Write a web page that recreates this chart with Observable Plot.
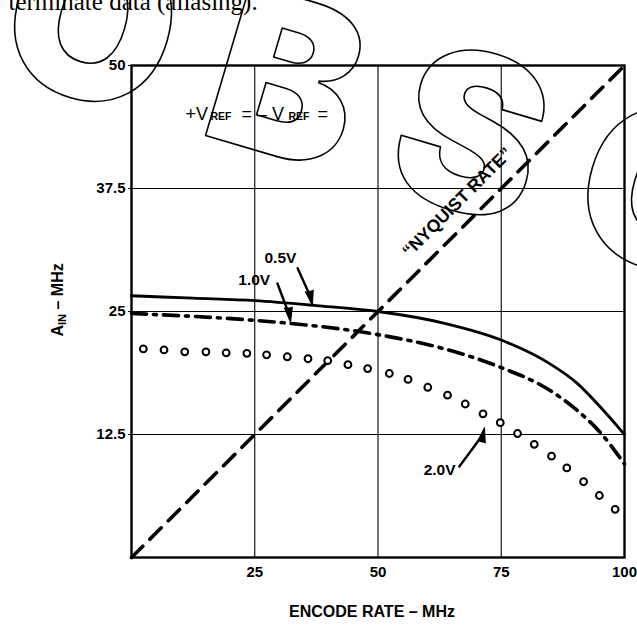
<!DOCTYPE html>
<html><head><meta charset="utf-8">
<script src="https://cdn.jsdelivr.net/npm/d3@7"></script>
<script src="https://cdn.jsdelivr.net/npm/@observablehq/plot@0.6"></script>
<style>html,body{margin:0;padding:0;background:#fff} svg{display:block}</style>
</head><body><div id="chart"></div>
<script>
// ---- data ----
const encodeRate05 = [0, 12.5, 25, 37.5, 50, 63.5, 75, 84.5, 90.3, 95.1, 100];
const ain05        = [26.6, 26.35, 26.1, 25.6, 25.0, 23.8, 22.1, 19.8, 17.75, 15.3, 12.5];
const encodeRate10 = [0, 25, 32, 50, 63.5, 75, 84.5, 90.3, 95.1, 100];
const ain10        = [24.8, 24.1, 23.8, 22.65, 21.2, 19.3, 17.1, 15.0, 12.7, 9.5];
const encodeRate20 = [2.4, 6.6, 10.8, 15.1, 19.2, 23.4, 27.4, 31.6, 35.8, 39.8, 43.9, 47.9, 52.3, 56.1, 60.1, 64.1, 67.7, 71.3, 74.8, 78.3, 81.7, 85.2, 88.3, 91.7, 94.9, 98.1];
const ain20        = [21.2, 21.1, 20.9, 20.9, 20.8, 20.75, 20.6, 20.4, 20.2, 20.0, 19.6, 19.2, 18.7, 18.1, 17.3, 16.5, 15.6, 14.6, 13.7, 12.6, 11.5, 10.3, 9.1, 7.7, 6.3, 4.9];
const nyquistRate  = [0, 100];
const nyquistAin   = [0, 50];
const xTicks = [25, 50, 75, 100];
const yTicks = [12.5, 25, 37.5, 50];
const curveLabels = ["0.5V", "1.0V", "2.0V"];

// ---- annotation geometry ----
const labelPos = [{t: curveLabels[0], x: 30.2, y: 30.4}, {t: curveLabels[1], x: 24.9, y: 28.2}, {t: curveLabels[2], x: 62.5, y: 8.9}];
const arrowShafts = [
  {x1: 33.7, y1: 29.4, x2: 36.3, y2: 26.5, bend: 35},
  {x1: 29.6, y1: 27.85, x2: 31.9, y2: 24.8, bend: 35},
  {x1: 66.5, y1: 9.25, x2: 71.3, y2: 12.5, bend: -35}
];
const arrowHeads = [
  {x: 36.7, y: 25.6, a: 168},
  {x: 32.25, y: 23.9, a: 172},
  {x: 71.6, y: 13.2, a: 12}
];

const sans = "'Liberation Sans', Arial, Helvetica, sans-serif";
const pts = (xs, ys) => xs.map((x, i) => ({x, y: ys[i]}));

const chart = Plot.plot({
  width: 637, height: 626,
  marginLeft: 131, marginRight: 13, marginTop: 65, marginBottom: 69,
  x: {domain: [0, 100]},
  y: {domain: [0, 50]},
  style: {fontFamily: sans, background: "white", color: "black"},
  marks: [
    Plot.gridX(xTicks.slice(0, 3), {stroke: "black", strokeOpacity: 1, strokeWidth: 1.1}),
    Plot.gridY(yTicks.slice(0, 3), {stroke: "black", strokeOpacity: 1, strokeWidth: 1.1}),
    Plot.frame({stroke: "black", strokeWidth: 2.4}),
    Plot.axisX(xTicks, {tickSize: 0, tickPadding: 9, fontSize: 15, fontWeight: "bold", label: null, tickFormat: d => `${d}`}),
    Plot.axisY(yTicks, {tickSize: 3, tickPadding: 3, fontSize: 15, fontWeight: "bold", label: null, tickFormat: d => `${d}`}),
    // Nyquist rate
    Plot.line(pts(nyquistRate, nyquistAin), {x: "x", y: "y", stroke: "black", strokeWidth: 3.6, strokeDasharray: "16,10"}),
    // 0.5V solid
    Plot.line(pts(encodeRate05, ain05), {x: "x", y: "y", stroke: "black", strokeWidth: 2.8, curve: "monotone-x"}),
    // 1.0V dash-dot
    Plot.line(pts(encodeRate10, ain10), {x: "x", y: "y", stroke: "black", strokeWidth: 3.6, curve: "monotone-x", strokeDasharray: "15,7,3,7"}),
    // 2.0V circles
    Plot.dot(pts(encodeRate20, ain20), {x: "x", y: "y", r: 3.4, stroke: "black", strokeWidth: 2, fill: "white"}),
    // curve labels and arrows
    Plot.text(labelPos, {x: "x", y: "y", text: "t", fontSize: 15.5, fontWeight: "bold"}),
    Plot.arrow(arrowShafts, {x1: "x1", y1: "y1", x2: "x2", y2: "y2", bend: d => d.bend, stroke: "black", strokeWidth: 2.4, headLength: 0}),
    Plot.vector(arrowHeads, {x: "x", y: "y", rotate: "a", length: 15, r: 4, shape: "spike", anchor: "end", fill: "black", stroke: "black", strokeWidth: 1}),
    Plot.text(["\u201CNYQUIST RATE\u201D"], {x: 66.1, y: 36.1, rotate: -45, fontSize: 17.5, fontWeight: "bold"}),
    // +VREF = -VREF =
    Plot.text(["+V"], {frameAnchor: "top-left", dx: 54, dy: 54, textAnchor: "start", lineAnchor: "bottom", fontSize: 18}),
    Plot.text(["REF"], {frameAnchor: "top-left", dx: 79, dy: 54, textAnchor: "start", lineAnchor: "bottom", fontSize: 10.5, fontWeight: "bold"}),
    Plot.text(["= \u2013 V"], {frameAnchor: "top-left", dx: 110, dy: 54, textAnchor: "start", lineAnchor: "bottom", fontSize: 18}),
    Plot.text(["REF"], {frameAnchor: "top-left", dx: 157, dy: 54, textAnchor: "start", lineAnchor: "bottom", fontSize: 10.5, fontWeight: "bold"}),
    Plot.text(["="], {frameAnchor: "top-left", dx: 186, dy: 54, textAnchor: "start", lineAnchor: "bottom", fontSize: 18}),
    // axis titles
    Plot.text(["ENCODE RATE \u2013 MHz"], {frameAnchor: "bottom", dx: -6, dy: 59, fontSize: 16, fontWeight: "bold"}),
    Plot.text(["A"], {frameAnchor: "left", dx: -69, dy: 25, rotate: -90, textAnchor: "start", lineAnchor: "bottom", fontSize: 16, fontWeight: "bold"}),
    Plot.text(["IN"], {frameAnchor: "left", dx: -66, dy: 13.5, rotate: -90, textAnchor: "start", lineAnchor: "bottom", fontSize: 11, fontWeight: "bold"}),
    Plot.text(["\u2013 MHz"], {frameAnchor: "left", dx: -69, dy: -2, rotate: -90, textAnchor: "start", lineAnchor: "bottom", fontSize: 16, fontWeight: "bold"}),
    // page text above
    Plot.text(["terminate data (aliasing)."], {frameAnchor: "top-left", dx: -123, dy: -56, textAnchor: "start", lineAnchor: "bottom", fontSize: 25, fontFamily: "'Liberation Serif', 'Times New Roman', serif"}),
    // watermark
    Plot.text(["OBSOLETE"], {frameAnchor: "top-left", dx: -142, dy: 6, rotate: 16.5, textAnchor: "start", lineAnchor: "bottom", fontSize: 218, fontWeight: 900, fontFamily: "Inter, 'DejaVu Sans', sans-serif", fill: "none", stroke: "black", strokeWidth: 1.6})
  ]
});
d3.select(chart).selectAll("text").filter(function () { return this.textContent === "OBSOLETE"; }).attr("letter-spacing", 46);
document.getElementById("chart").appendChild(chart);
</script>
</body></html>
